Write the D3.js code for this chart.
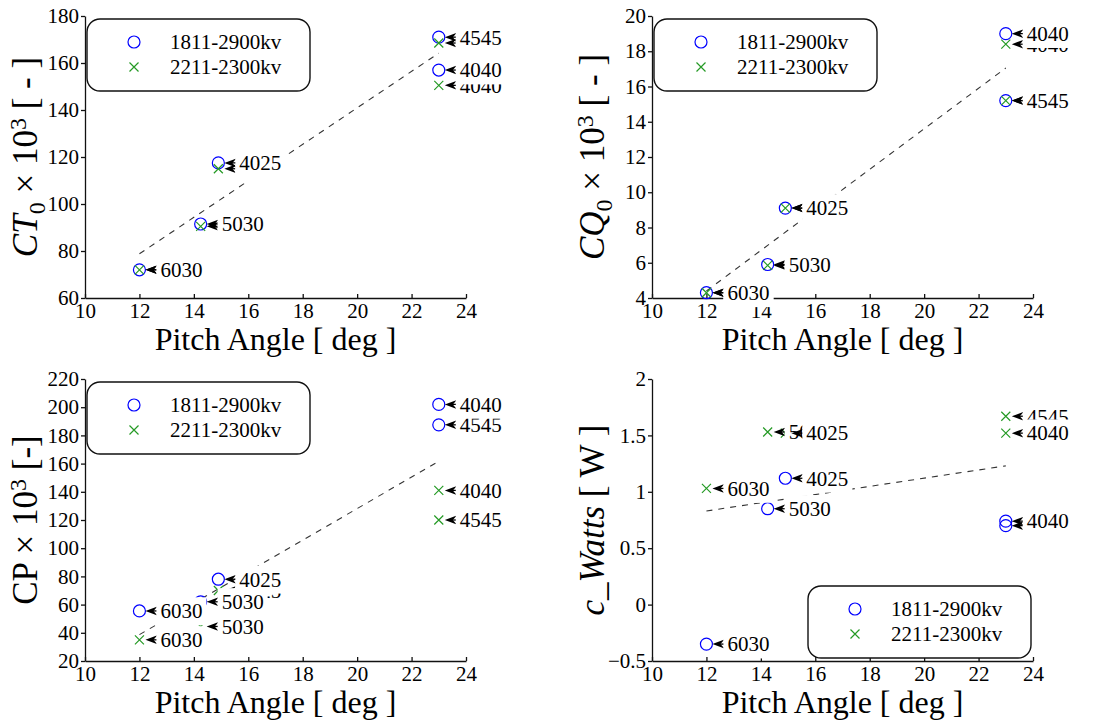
<!DOCTYPE html>
<html>
<head>
<meta charset="utf-8">
<script src="https://cdnjs.cloudflare.com/ajax/libs/d3/7.8.5/d3.min.js"></script>
<style>
	body { margin: 0; background: #fff; }
	svg text { font-family: "Liberation Serif", "DejaVu Serif", serif; fill: #000; }
</style>
</head>
<body>
<div id="chart"></div>
<script>
// pitch angle of each prop, and the prop names used for the annotations
var pitch = [12, 14.25, 14.9, 23, 23];
var propLabels = ["6030", "5030", "4025", "4545", "4040"];
var seriesNames = ["1811-2900kv", "2211-2300kv"];
var xTicks = [10, 12, 14, 16, 18, 20, 22, 24];

// values read per panel: blue = 1811-2900kv, green = 2211-2300kv
var ct0Blue = [72, 91.5, 117.5, 171, 157];
var ct0Green = [72, 90.5, 115, 168.5, 150.5];
var cq0Blue = [4.3, 5.9, 9.1, 15.2, 19.0];
var cq0Green = [4.3, 5.85, 9.1, 15.2, 18.4];
var cpBlue = [55.5, 62, 78, 187.5, 202];
var cpGreen = [35, 44.5, 70, 120, 141];
var wattsBlue = [-0.35, 0.85, 1.12, 0.70, 0.74];
var wattsGreen = [1.03, 1.53, 1.52, 1.67, 1.52];

// end points of the dashed fit lines
var fitPitch = [12, 23];
var ct0Fit = [78.8, 164.2];
var cq0Fit = [4.4, 17.05];
var cpFit = [38.7, 161.6];
var wattsFit = [0.83, 1.23];

var ct0Ticks = [60, 80, 100, 120, 140, 160, 180];
var cq0Ticks = [4, 6, 8, 10, 12, 14, 16, 18, 20];
var cpTicks = [20, 40, 60, 80, 100, 120, 140, 160, 180, 200, 220];
var wattsTicks = [-0.5, 0, 0.5, 1, 1.5, 2];

var blueCol = "#0000ff",
    greenCol = "#259a25";

var svg = d3.select("#chart").append("svg")
	.attr("width", 1100)
	.attr("height", 724);

var panels = [
	{left: 85, top: 16, yDomain: [60, 180], ticks: ct0Ticks, blue: ct0Blue, green: ct0Green, fit: ct0Fit,
	 legend: "tl", ylabel: [["CT", "i"], ["0", "sub"], [" \u00d7 10", ""], ["3", "sup"], [" [ - ]", ""]]},
	{left: 652, top: 16, yDomain: [4, 20], ticks: cq0Ticks, blue: cq0Blue, green: cq0Green, fit: cq0Fit,
	 legend: "tl", ylabel: [["CQ", "i"], ["0", "sub"], [" \u00d7 10", ""], ["3", "sup"], [" [ - ]", ""]]},
	{left: 85, top: 379, yDomain: [20, 220], ticks: cpTicks, blue: cpBlue, green: cpGreen, fit: cpFit,
	 legend: "tl", ylabel: [["CP \u00d7 10", ""], ["3", "sup"], [" [-]", ""]]},
	{left: 652, top: 379, yDomain: [-0.5, 2], ticks: wattsTicks, blue: wattsBlue, green: wattsGreen, fit: wattsFit,
	 legend: "br", ylabel: [["c_Watts", "i"], [" [ W ]", ""]]}
];

panels.forEach(function(p) { drawPanel(p); });

function drawPanel(p) {
	var width = 381, height = 282;
	var x = d3.scaleLinear().domain([10, 24]).range([p.left, p.left + width]);
	var y = d3.scaleLinear().domain(p.yDomain).range([p.top + height, p.top]);
	var g = svg.append("g");

	//axes: x ticks point inward, y ticks outward
	var xa = g.append("g")
		.attr("transform", "translate(0," + (p.top + height) + ")")
		.call(d3.axisBottom(x).tickValues(xTicks).tickSizeInner(-4).tickSizeOuter(0).tickPadding(5));
	var ya = g.append("g")
		.attr("transform", "translate(" + p.left + ",0)")
		.call(d3.axisLeft(y).tickValues(p.ticks).tickSizeInner(4).tickSizeOuter(0).tickPadding(2)
			.tickFormat(function(d) { return d < 0 ? "\u2212" + Math.abs(d) : String(d); }));
	[xa, ya].forEach(function(a) {
		a.attr("font-family", null).attr("font-size", null);
		a.selectAll("text").attr("font-size", 21);
		a.selectAll("path, line").attr("stroke", "#111").attr("stroke-width", 1.3);
	});

	//dashed fit line, under everything else
	var line = d3.line().x(function(d) { return x(d[0]); }).y(function(d) { return y(d[1]); });
	g.append("path")
		.datum(fitPitch.map(function(v, i) { return [v, p.fit[i]]; }))
		.attr("d", line)
		.attr("fill", "none")
		.attr("stroke", "#333")
		.attr("stroke-width", 1.1)
		.attr("stroke-dasharray", "6,6");

	//markers
	pitch.forEach(function(v, i) {
		g.append("circle")
			.attr("cx", x(v)).attr("cy", y(p.blue[i])).attr("r", 6)
			.attr("fill", "none").attr("stroke", blueCol).attr("stroke-width", 1.2);
	});
	pitch.forEach(function(v, i) {
		drawCross(g, x(v), y(p.green[i]), 4.5);
	});

	//annotations, green first so the blue labels sit on top
	pitch.forEach(function(v, i) { annotate(g, x(v), y(p.green[i]), propLabels[i]); });
	pitch.forEach(function(v, i) { annotate(g, x(v), y(p.blue[i]), propLabels[i]); });

	//legend box
	var lw = 223, lh = 72;
	var lx = p.legend == "tl" ? p.left + 2 : p.left + width - 2 - lw;
	var ly = p.legend == "tl" ? p.top + 3 : p.top + height - 3 - lh;
	var leg = g.append("g").attr("transform", "translate(" + lx + "," + ly + ")");
	leg.append("rect")
		.attr("width", lw).attr("height", lh).attr("rx", 13)
		.attr("fill", "#fff").attr("stroke", "#111").attr("stroke-width", 1.4);
	leg.append("circle")
		.attr("cx", 47).attr("cy", 23).attr("r", 6)
		.attr("fill", "none").attr("stroke", blueCol).attr("stroke-width", 1.2);
	drawCross(leg, 47, 48, 4.5);
	seriesNames.forEach(function(s, i) {
		leg.append("text")
			.attr("x", 83).attr("y", 23 + i * 25).attr("dy", "0.35em")
			.attr("font-size", 21)
			.text(s);
	});

	//axis titles
	g.append("text")
		.attr("x", p.left + width / 2).attr("y", p.top + height + 52)
		.attr("text-anchor", "middle")
		.attr("font-size", 32)
		.text("Pitch Angle [ deg ]");

	var yl = g.append("text")
		.attr("transform", "translate(" + (p.left - 48) + "," + (p.top + height / 2) + ") rotate(-90)")
		.attr("text-anchor", "middle")
		.attr("font-size", 35);
	var shift = 0;
	p.ylabel.forEach(function(part) {
		var t = yl.append("tspan").text(part[0]);
		var dy = 0;
		if (part[1] == "i") t.attr("font-style", "italic");
		if (part[1] == "sub") { t.attr("font-size", 24); dy = 8; }
		if (part[1] == "sup") { t.attr("font-size", 24); dy = -11; }
		t.attr("dy", dy - shift);
		shift = dy;
	});
}

function drawCross(g, cx, cy, s) {
	g.append("path")
		.attr("d", "M" + (cx - s) + "," + (cy - s) + "L" + (cx + s) + "," + (cy + s) +
			"M" + (cx - s) + "," + (cy + s) + "L" + (cx + s) + "," + (cy - s))
		.attr("stroke", greenCol).attr("stroke-width", 1.2).attr("fill", "none");
}

//arrow from the label to the point, label on a white box
function annotate(g, px, py, label) {
	var tx = px + 21;
	var a = g.append("g");
	a.append("line")
		.attr("x1", tx - 2).attr("y1", py).attr("x2", px + 12).attr("y2", py)
		.attr("stroke", "#000").attr("stroke-width", 1.3);
	a.append("path")
		.attr("d", "M" + (px + 6) + "," + py + "L" + (px + 18) + "," + (py - 4.5) +
			"L" + (px + 14) + "," + py + "L" + (px + 18) + "," + (py + 4.5) + "Z")
		.attr("fill", "#000");
	var t = a.append("text")
		.attr("x", tx).attr("y", py).attr("dy", "0.35em")
		.attr("font-size", 21)
		.text(label);
	var b = t.node().getBBox();
	a.insert("rect", "text")
		.attr("x", b.x - 4).attr("y", b.y - 2)
		.attr("width", b.width + 8).attr("height", b.height + 4)
		.attr("fill", "#fff");
}
</script>
</body>
</html>
